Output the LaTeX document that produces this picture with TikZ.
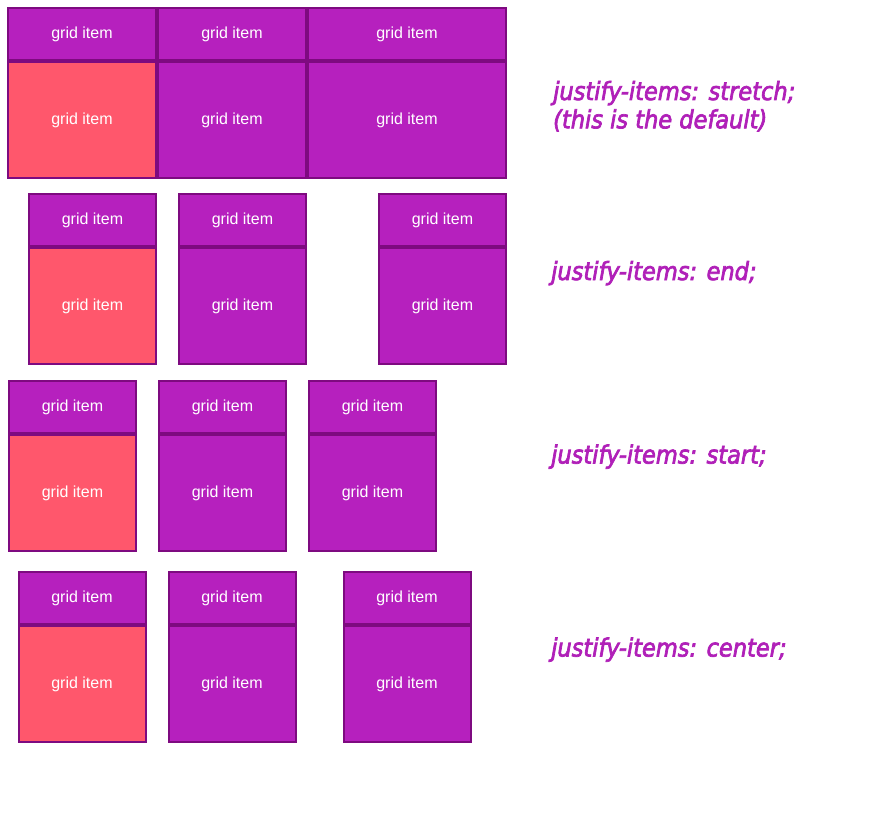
\documentclass[tikz,border=0pt]{standalone}
\usepackage{fontspec}
\setmainfont{Liberation Sans}
\newfontfamily\lblfont{DejaVu Sans Condensed}
\newcommand{\heavytext}[1]{\special{pdf:literal 2 Tr 0.7 w}#1\special{pdf:literal 0 Tr}}
\definecolor{gfill}{HTML}{B620BE}
\definecolor{gred}{HTML}{FF576C}
\definecolor{gborder}{HTML}{7E0A80}
\definecolor{glbl}{HTML}{B020B8}
\tikzset{
  gi/.style={draw=gborder, line width=2pt, fill=gfill, text=white, inner sep=0pt,
    font=\fontsize{16}{18}\selectfont},
  gtop/.style={gi, minimum height=52pt},
  gbot/.style={gi, minimum height=116pt},
  gred/.style={fill=gred},
  w150/.style={minimum width=148pt},
  w200/.style={minimum width=198pt},
  wsm/.style={minimum width=127pt},
  lbl/.style={text=glbl, anchor=base west, inner sep=0pt,
    font=\lblfont\itshape\fontsize{25}{28.3}\selectfont, align=left}
}
\begin{document}
\begin{tikzpicture}[x=1pt,y=-1pt]
\fill[white] (0,0) rectangle (872,821);
\useasboundingbox (0,0) rectangle (872,821);
% row 1: stretch (y 7..179, divider at 61)
\node[gtop,w150] (r1a) at (82,34) {grid item};
\node[gtop,w150] (r1b) at (232,34) {grid item};
\node[gtop,w200] (r1c) at (407,34) {grid item};
\node[gbot,w150,gred] (r1d) at (82,120) {grid item};
\node[gbot,w150] (r1e) at (232,120) {grid item};
\node[gbot,w200] (r1f) at (407,120) {grid item};
% row 2: end (y 193..365, divider at 247)
\node[gtop,wsm] (r2a) at (92.5,220) {grid item};
\node[gtop,wsm] (r2b) at (242.5,220) {grid item};
\node[gtop,wsm] (r2c) at (442.5,220) {grid item};
\node[gbot,wsm,gred] (r2d) at (92.5,306) {grid item};
\node[gbot,wsm] (r2e) at (242.5,306) {grid item};
\node[gbot,wsm] (r2f) at (442.5,306) {grid item};
% row 3: start (y 380..552, divider at 434)
\node[gtop,wsm] (r3a) at (72.5,407) {grid item};
\node[gtop,wsm] (r3b) at (222.5,407) {grid item};
\node[gtop,wsm] (r3c) at (372.5,407) {grid item};
\node[gbot,wsm,gred] (r3d) at (72.5,493) {grid item};
\node[gbot,wsm] (r3e) at (222.5,493) {grid item};
\node[gbot,wsm] (r3f) at (372.5,493) {grid item};
% row 4: center (y 571..743, divider at 625)
\node[gtop,wsm] (r4a) at (82,598) {grid item};
\node[gtop,wsm] (r4b) at (232,598) {grid item};
\node[gtop,wsm] (r4c) at (407,598) {grid item};
\node[gbot,wsm,gred] (r4d) at (82,684) {grid item};
\node[gbot,wsm] (r4e) at (232,684) {grid item};
\node[gbot,wsm] (r4f) at (407,684) {grid item};
% labels
\node[lbl] (l1) at (553,128.3) {\heavytext{justify-items: stretch;}\\\heavytext{(this is the default)}};
\node[lbl] (l2) at (551,280) {\heavytext{justify-items: end;}};
\node[lbl] (l3) at (551,463.5) {\heavytext{justify-items: start;}};
\node[lbl] (l4) at (551,656.5) {\heavytext{justify-items: center;}};
\end{tikzpicture}
\end{document}
